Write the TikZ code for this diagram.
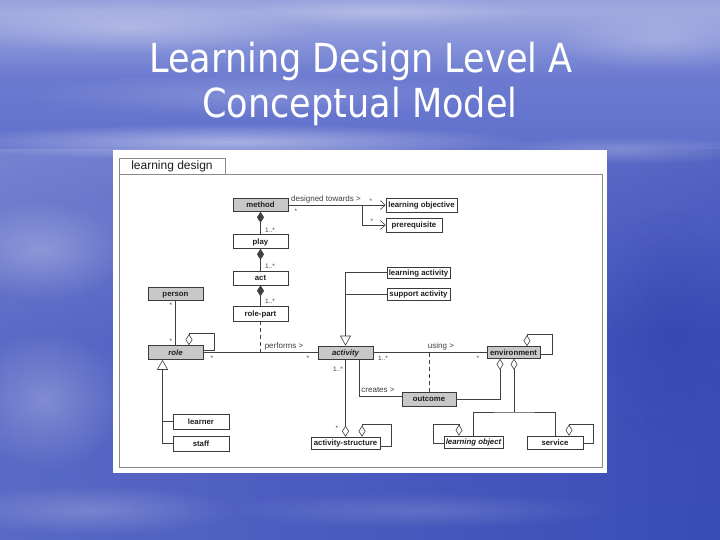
\documentclass[tikz,border=0pt]{standalone}
\usepackage{fontspec}
\usepackage{graphicx}
\usetikzlibrary{arrows.meta,fadings,calc}
\newfontfamily\dgm{Liberation Sans}
\newfontfamily\ttlfont{DejaVu Sans}
\definecolor{skyA}{HTML}{3A4FBA}
\definecolor{skyB}{HTML}{4152BD}
\definecolor{skyC}{HTML}{6C7BD0}
\definecolor{skyD}{HTML}{A0AAE0}
\definecolor{skyE}{HTML}{6A74CC}
\definecolor{skyF}{HTML}{5660C4}
\definecolor{deepblue}{HTML}{1E2C9A}
\definecolor{boxc}{HTML}{3A3A3A}
\definecolor{lnc}{HTML}{404040}
\definecolor{gfill}{HTML}{C8C8C8}
\definecolor{framec}{HTML}{8A8A8A}
\definecolor{txt}{HTML}{1E1E1E}
\pgfdeclareverticalshading{skyv}{100bp}{color(0bp)=(skyA); color(44bp)=(skyB); color(68bp)=(skyC); color(74bp)=(skyD); color(80bp)=(skyE); color(100bp)=(skyF)}
\tikzfading[name=cloudfade, inner color=transparent!0, outer color=transparent!100]
\begin{document}
\begin{tikzpicture}[x=1pt,y=-1pt,
  box/.style={draw=boxc, line width=0.6pt, fill=white, inner sep=0pt, minimum height=13pt,
    text height=5.6pt, text depth=0.4pt,
    font=\dgm\fontsize{7.8}{8}\selectfont\bfseries, text=txt},
  gbox/.style={box, fill=gfill},
  ln/.style={draw=lnc, line width=0.6pt},
  odia/.style={arrows={{Diamond[open,length=11pt,width=7pt]}-}},
  fdia/.style={arrows={{Diamond[length=11pt,width=7pt]}-}},
  gen/.style={arrows={-{Triangle[open,length=10pt,width=11pt]}}},
  barb/.style={arrows={-{Straight Barb[length=5pt,width=9pt]}}},
  lbl/.style={inner sep=0pt, font=\dgm\fontsize{8}{9}\selectfont, text=txt!85},
  mult/.style={inner sep=0pt, font=\dgm\fontsize{6.5}{7}\selectfont, text=txt!85},
  ttl/.style={inner sep=0pt, anchor=base, text=white, font=\ttlfont\fontsize{40}{44}\selectfont},
  dashln/.style={ln, dash pattern=on 4pt off 3pt}
]
\useasboundingbox (0,0) rectangle (720,540);
% ---------- sky background ----------
\shade[shading=skyv] (0,0) rectangle (720,540);
\shade[left color=white, right color=deepblue, opacity=0.14] (0,150) rectangle (720,540);
\fill[white, opacity=0.26, path fading=cloudfade] (130,28) ellipse [x radius=190, y radius=26];
\fill[white, opacity=0.20, path fading=cloudfade] (380,12) ellipse [x radius=150, y radius=16];
\fill[white, opacity=0.22, path fading=cloudfade] (660,40) ellipse [x radius=110, y radius=30];
\fill[white, opacity=0.16, path fading=cloudfade] (250,95) ellipse [x radius=230, y radius=22];
\fill[white, opacity=0.45, path fading=cloudfade] (230,142) ellipse [x radius=300, y radius=18];
\fill[white, opacity=0.22, path fading=cloudfade] (620,150) ellipse [x radius=140, y radius=14];
\fill[white, opacity=0.26, path fading=cloudfade] (40,250) ellipse [x radius=90, y radius=50];
\fill[white, opacity=0.24, path fading=cloudfade] (45,400) ellipse [x radius=80, y radius=70];
\fill[white, opacity=0.20, path fading=cloudfade] (90,510) ellipse [x radius=150, y radius=25];
\fill[white, opacity=0.14, path fading=cloudfade] (420,510) ellipse [x radius=200, y radius=18];
\fill[deepblue, opacity=0.18, path fading=cloudfade] (670,330) ellipse [x radius=70, y radius=120];
% ---------- title ----------
\node[ttl] (t1) at (361,73) {\scalebox{0.877}[1]{Learning Design Level A}};
\node[ttl] (t2) at (360,118) {\scalebox{0.877}[1]{Conceptual Model}};
% ---------- diagram panel ----------
\fill[white] (113,150) rectangle (607,473);
\draw[framec, line width=0.8pt] (119,174) rectangle (602,467);
\node[draw=framec, line width=0.8pt, fill=white, minimum width=106pt, minimum height=16pt, inner sep=0pt,
  font=\dgm\fontsize{12}{13}\selectfont, text=txt] (tab) at (172,166) {learning design};
% ---------- nodes ----------
\node[gbox, minimum width=55pt] (method) at (260.5,205) {method};
\node[box, minimum width=55pt, minimum height=14pt] (play) at (260.5,241.5) {play};
\node[box, minimum width=55pt, minimum height=14pt] (act) at (260.5,278) {act};
\node[box, minimum width=55pt, minimum height=15pt] (rolepart) at (260.5,313.5) {role-part};
\node[gbox, minimum width=55pt] (person) at (175.5,293.5) {person};
\node[gbox, minimum width=55pt, minimum height=14pt] (role) at (175.5,352.5) {\itshape role};
\node[gbox, minimum width=55pt] (activity) at (345.5,352.5) {\itshape activity};
\node[gbox, minimum width=53pt, minimum height=12pt] (env) at (513.5,352.5) {environment};
\node[box, minimum width=71pt, minimum height=14pt] (lobj) at (421.5,205) {learning objective};
\node[box, minimum width=56pt, minimum height=14pt] (prereq) at (414,225) {prerequisite};
\node[box, minimum width=63pt, minimum height=11pt] (lact) at (418.5,272.5) {learning activity};
\node[box, minimum width=63pt, minimum height=12pt] (sact) at (418.5,294) {support activity};
\node[gbox, minimum width=54pt, minimum height=14pt] (outcome) at (429,399) {outcome};
\node[box, minimum width=56pt, minimum height=15pt] (learner) at (201,421.5) {learner};
\node[box, minimum width=56pt, minimum height=15pt] (staff) at (201,443.5) {staff};
\node[box, minimum width=69pt, minimum height=12pt] (actstruct) at (345.5,443) {activity-structure};
\node[box, minimum width=59pt, minimum height=12pt] (lobject) at (473.5,442) {\itshape learning object};
\node[box, minimum width=56pt, minimum height=13pt] (service) at (555,442.5) {service};
% ---------- connectors ----------
% composition chain
\draw[ln,fdia] (method.south) -- (play.north);
\draw[ln,fdia] (play.south) -- (act.north);
\draw[ln,fdia] (act.south) -- (rolepart.north);
\node[mult] (m1) at (270,230) {1..*};
\node[mult] (m2) at (270,266) {1..*};
\node[mult] (m3) at (270,301) {1..*};
% designed towards
\coordinate (dt) at (362,205);
\draw[ln] (method.east) -- (dt);
\draw[ln,barb] (dt) -- (lobj.west);
\draw[ln,barb] (dt) |- (prereq.west);
\node[lbl] (ldt) at (326,199) {designed towards >};
\node[mult] (m4) at (296,211) {*};
\node[mult] (m5) at (371,201) {*};
\node[mult] (m6) at (372,221) {*};
% person - role
\draw[ln] (person.south) -- (role.north);
\node[mult] (m7) at (171,305) {*};
\node[mult] (m8) at (171,341) {*};
% role self association
\draw[ln,odia] ($(role.north)+(13.5,0)$) -- ++(0,-12) -| ($(role.east)+(11,-2.5)$) -- ($(role.east)+(0,-2.5)$);
% performs
\draw[ln] (role.east) -- (activity.west);
\node[lbl] (lpf) at (284,346) {performs >};
\node[mult] (m9) at (212,358) {*};
\node[mult] (m10) at (308,358) {*};
\draw[dashln] (rolepart.south) -- (rolepart.south |- role.east);
% role generalisation
\draw[ln,gen] (staff.west) -| ($(role.south)+(-13,0)$);
\draw[ln] (learner.west) -- ($(learner.west)+(-10.5,0)$);
% activity generalisation
\draw[ln,gen] (lact.west) -| (activity.north);
\draw[ln] (sact.west) -- (sact.west -| activity.north);
% using
\draw[ln] (activity.east) -- (env.west);
\node[lbl] (lus) at (441,346) {using >};
\node[mult] (m11) at (383,358) {1..*};
\node[mult] (m12) at (478,358) {*};
\draw[dashln] (outcome.north) -- (outcome.north |- activity.east);
% creates
\draw[ln] ($(activity.south)+(13.5,0)$) |- ($(outcome.west)+(0,-3)$);
\node[lbl] (lcr) at (378,390) {creates >};
% activity - activity-structure
\draw[ln,odia] (actstruct.north) -- (actstruct.north |- activity.south);
\node[mult] (m13) at (338,369) {1..*};
\node[mult] (m14) at (337,428) {*};
\draw[ln,odia] ($(actstruct.north)+(16.5,0)$) -- ++(0,-12) -| ($(actstruct.east)+(11,3)$) -- ($(actstruct.east)+(0,3)$);
% environment aggregations
\draw[ln,odia] ($(env.south)+(-13.5,0)$) |- (outcome.east);
\coordinate (ej) at (514,412);
\draw[ln,odia] ($(env.south)+(0.5,0)$) -- (ej);
\draw[ln] (lobject.north) |- (ej) -| (service.north);
\draw[ln,odia] ($(env.north)+(13.5,0)$) -- ++(0,-12) -| ($(env.east)+(12,1.5)$) -- ($(env.east)+(0,1.5)$);
\draw[ln,odia] ($(lobject.north)+(-14.5,0)$) -- ++(0,-11) -| ($(lobject.west)+(-10,1)$) -- ($(lobject.west)+(0,1)$);
\draw[ln,odia] ($(service.north)+(14,0)$) -- ++(0,-11) -| ($(service.east)+(10,1)$) -- ($(service.east)+(0,1)$);
\end{tikzpicture}
\end{document}
